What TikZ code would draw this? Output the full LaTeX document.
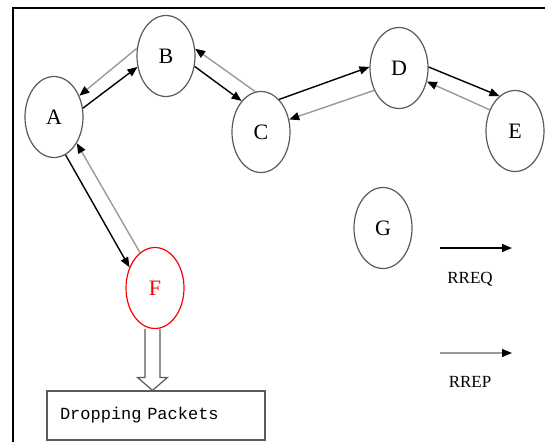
\documentclass[tikz,border=0pt]{standalone}
\usepackage{fontspec}
\setmainfont{Liberation Serif}
\setmonofont{Liberation Mono}
\usetikzlibrary{shapes.geometric,arrows.meta,calc}

\definecolor{rimgray}{HTML}{5A5A5A}
\definecolor{replygray}{HTML}{9A9A9A}

\tikzset{
  router/.style={ellipse, draw=rimgray, line width=1.2pt, inner sep=0pt,
                 minimum width=58pt, minimum height=81pt,
                 font=\fontsize{22}{22}\selectfont},
  rreq/.style={draw=black, line width=1.4pt, -{Triangle[length=10pt,width=8pt]}},
  rrep/.style={draw=replygray, line width=1.4pt, -{Triangle[length=10pt,width=8pt,color=black]}},
  legendlabel/.style={font=\fontsize{17}{17}\selectfont, inner sep=0pt},
  hollow/.style={draw=rimgray, line width=1.2pt, fill=white},
}

\begin{document}
\begin{tikzpicture}[x=1pt, y=-1pt]
  \useasboundingbox (0,0) rectangle (545,442);

  % frame edges
  \draw[line width=2pt] (13,442) -- (13,8) -- (545,8);

  % routers
  \node[router] (A) at (54,117) {A};
  \node[router] (B) at (166,56) {B};
  \node[router] (C) at (261,132) {C};
  \node[router] (D) at (399,68) {D};
  \node[router] (E) at (515,131) {E};
  \node[router] (G) at (383,228) {G};
  \node[router, draw=red, text=red] (F) at (155,288) {F};

  % route requests
  \draw[rreq] (A.17)  -- (B.201);
  \draw[rreq] (B.340) -- (C.122);
  \draw[rreq] (C.61)  -- (D.178);
  \draw[rreq] (D.2)   -- (E.114);
  \draw[rreq] (A.287) -- (F.141);

  % route replies
  \draw[rrep] (B.165) -- (A.40);
  \draw[rrep] (C.98)  -- (B.14);
  \draw[rrep] (D.222) -- (C.24);
  \draw[rrep] (E.140) -- (D.334);
  \draw[rrep] (F.113) -- (A.311);

  % drop box
  \node[draw=rimgray, line width=1.2pt, text width=192pt, align=left,
        inner xsep=13pt, minimum height=49pt,
        font=\ttfamily\fontsize{17}{17}\selectfont]
        (drop) at (156,415.5) {Dropping Packets};

  % hollow arrow from F to the drop box
  \coordinate (hs) at ($(F.south)+(-2.5,0)$);
  \draw[hollow]
    ($(hs)+(-7.5,0)$) -- ($(hs |- drop.north)+(-7.5,-13)$)
    -- ($(hs |- drop.north)+(-15,-13)$) -- (hs |- drop.north)
    -- ($(hs |- drop.north)+(15,-13)$) -- ($(hs |- drop.north)+(7.5,-13)$)
    -- ($(hs)+(7.5,0)$);

  % legend
  \coordinate (q1) at (440,248);
  \coordinate (q2) at (512,248);
  \coordinate (p1) at (440,353);
  \coordinate (p2) at (512,353);
  \draw[rreq] (q1) -- (q2);
  \draw[rrep] (p1) -- (p2);
  \node[legendlabel] (lq) at (470,279) {RREQ};
  \node[legendlabel] (lp) at (470,382) {RREP};
\end{tikzpicture}
\end{document}
